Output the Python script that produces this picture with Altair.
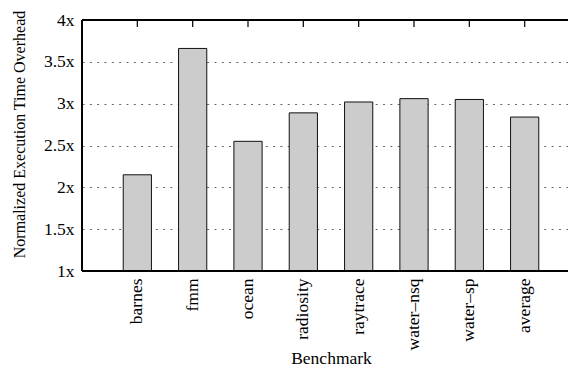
import altair as alt
import pandas as pd

benchmarks = ["barnes", "fmm", "ocean", "radiosity", "raytrace", "water–nsq", "water–sp", "average"]
overheads = [2.15, 3.66, 2.55, 2.89, 3.02, 3.06, 3.05, 2.84]
y_ticks = [1, 1.5, 2, 2.5, 3, 3.5, 4]
inner_ticks = [1.5, 2, 2.5, 3, 3.5]

W, H = 486, 251      # visible view (page is only 576 wide)
XR = 498             # full plot width of the reference (right edge falls off the page)
FONT = "Liberation Serif"

df = pd.DataFrame({"Benchmark": benchmarks, "Overhead": overheads})
tick_df = pd.DataFrame({"v": inner_ticks})

xscale = alt.Scale(domain=benchmarks, range=[0, XR], paddingInner=0.49, paddingOuter=0.745)
yscale = alt.Scale(domain=[1, 4], nice=False, zero=False)

x_axis = alt.Axis(
    title="Benchmark", labelAngle=-90, ticks=False, domain=False, grid=False,
    labelPadding=7, labelFont=FONT, labelFontSize=17.5, labelColor="black",
    titleFont=FONT, titleFontSize=17.5, titleFontWeight="normal", titleColor="black",
    titleX=XR / 2, titleY=92, titleBaseline="alphabetic", titleAlign="center",
)
y_axis = alt.Axis(
    title="Normalized Execution Time Overhead", values=y_ticks,
    labelExpr="datum.value + 'x'", ticks=False, domain=False,
    grid=True, gridDash=[2, 5.33], gridColor="#666666", gridWidth=1,
    labelPadding=8, labelFont=FONT, labelFontSize=17.5, labelColor="black",
    titleFont=FONT, titleFontSize=16, titleFontWeight="normal", titleColor="black",
    titleX=-58, titleY=114, titleBaseline="alphabetic", titleAlign="center", titleAngle=270,
)

bars = alt.Chart(df).mark_bar(fill="#cccccc", stroke="#111111", strokeWidth=1).encode(
    x=alt.X("Benchmark:N", sort=benchmarks, scale=xscale, axis=x_axis),
    y=alt.Y("Overhead:Q", scale=yscale, axis=y_axis),
    y2=alt.datum(1),
)

top_ticks = alt.Chart(df).mark_rule(color="black", strokeWidth=1.2).encode(
    x=alt.X("Benchmark:N", sort=benchmarks, scale=xscale, axis=x_axis),
    y=alt.value(0),
    y2=alt.value(7),
)

right_ticks = alt.Chart(tick_df).mark_rule(color="black", strokeWidth=1.2).encode(
    y=alt.Y("v:Q", scale=yscale, axis=y_axis),
    x=alt.value(XR - 7),
    x2=alt.value(XR),
)

frame_style = dict(color="black", strokeWidth=1.3)
top_line = alt.Chart(df).mark_rule(**frame_style).encode(
    x=alt.value(0), x2=alt.value(XR), y=alt.value(0))
bottom_line = alt.Chart(df).mark_rule(**frame_style).encode(
    x=alt.value(0), x2=alt.value(XR), y=alt.value(H))
left_line = alt.Chart(df).mark_rule(**frame_style).encode(
    x=alt.value(0), y=alt.value(0), y2=alt.value(H))

chart = alt.layer(bars, top_ticks, right_ticks, top_line, bottom_line, left_line).properties(
    width=W, height=H,
    padding={"left": 74, "top": 12, "right": 0, "bottom": 95},
    autosize=alt.AutoSizeParams(type="none"),
).configure_view(stroke=None)

chart.save("out.html", embed_options={"renderer": "svg", "actions": False})
